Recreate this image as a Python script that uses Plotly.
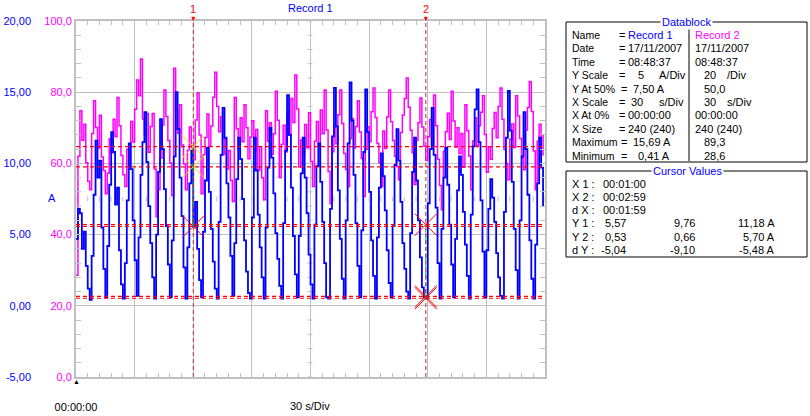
import plotly.graph_objects as go

# samples, 1 s each
t_sec = list(range(240))

record1 = [
    4.7, 6.8, 6.5, 4.0, 5.2, 2.8, 1.2, 0.41, 3.5, 7.8,
    11.6, 9.0, 10.2, 5.5, 2.6, 0.6, 4.2, 8.5, 12.2, 10.8,
    7.1, 8.3, 3.9, 1.5, 0.5, 3.0, 7.4, 11.4, 9.6, 6.0,
    3.2, 0.7, 4.8, 9.2, 11.5, 13.6, 10.1, 7.0, 4.4, 2.0,
    0.5, 5.0, 9.4, 13.1, 11.0, 8.2, 5.6, 2.9, 0.6, 4.6,
    10.5, 15.0, 12.4, 9.0, 6.3, 2.7, 0.5, 4.1, 8.6, 10.9,
    5.57, 7.3, 4.0, 1.8, 0.6, 5.2, 8.8, 11.1, 8.0, 5.4,
    3.1, 1.2, 0.5, 5.9, 10.6, 13.9, 11.8, 8.6, 6.2, 3.5,
    0.7, 4.4, 8.9, 11.8, 10.3, 7.5, 4.6, 2.4, 0.9, 0.5,
    6.2, 11.8, 9.5, 6.4, 4.1, 2.0, 0.5, 5.5, 9.7, 12.5,
    10.4, 7.9, 5.1, 3.3, 1.4, 0.5, 5.8, 10.9, 14.8, 12.0,
    8.3, 4.9, 2.2, 0.6, 4.9, 9.3, 11.8, 9.0, 6.5, 3.6,
    1.5, 0.5, 5.7, 9.8, 11.4, 8.7, 5.9, 3.0, 0.6, 0.5,
    6.8, 11.9, 15.3, 12.6, 8.1, 4.7, 1.9, 0.5, 6.0, 11.4,
    15.69, 13.0, 9.2, 5.8, 2.8, 0.6, 5.3, 10.8, 15.2, 12.2,
    8.0, 4.6, 2.1, 0.5, 4.8, 8.3, 10.7, 9.1, 6.7, 3.9,
    1.6, 0.6, 5.6, 9.9, 12.4, 10.2, 7.3, 4.4, 2.6, 1.0,
    0.5, 5.1, 9.4, 11.8, 8.8, 6.0, 3.4, 1.3, 0.6, 0.53,
    7.2, 11.0, 13.9, 10.6, 6.9, 3.0, 0.5, 5.4, 9.0, 11.1,
    8.5, 5.7, 2.9, 0.6, 4.7, 8.1, 10.5, 9.2, 6.6, 4.3,
    2.1, 0.5, 6.4, 11.2, 13.8, 15.2, 11.5, 7.4, 3.8, 0.6,
    3.9, 6.8, 8.9, 7.6, 5.9, 3.7, 2.0, 0.7, 0.5, 6.6,
    11.8, 15.1, 12.3, 8.7, 5.4, 2.5, 0.5, 6.0, 10.5, 13.6,
    11.0, 7.8, 4.6, 1.9, 0.5, 4.3, 8.6, 11.8, 9.7, 7.0,
]

record2 = [
    28.6, 62.0, 74.8, 66.5, 71.0, 60.2, 55.0, 52.6, 68.4, 77.6,
    70.1, 64.3, 73.5, 61.8, 58.0, 51.5, 57.2, 66.9, 63.0, 72.4,
    67.5, 78.5, 70.6, 62.2, 56.8, 53.5, 64.0, 59.3, 71.8, 66.0,
    75.2, 83.4, 79.0, 89.3, 72.5, 68.2, 74.0, 63.1, 70.4, 74.0,
    58.4, 45.0, 52.7, 61.5, 70.8, 80.6, 73.2, 66.4, 60.1, 51.0,
    86.7, 74.9, 68.5, 76.5, 65.2, 59.8, 52.6, 63.7, 70.2, 64.5,
    61.0, 72.2, 79.8, 68.0, 51.5, 62.4, 67.3, 73.9, 64.8, 70.5,
    78.6, 85.6, 76.0, 68.9, 73.1, 62.5, 66.8, 58.4, 63.6, 55.2,
    49.3, 78.5, 69.7, 64.0, 72.8, 66.1, 76.5, 70.0, 61.3, 67.4,
    72.0, 63.8, 69.5, 58.1, 64.7, 56.0, 49.8, 74.8, 66.2, 71.4,
    62.6, 68.3, 80.3, 72.1, 56.0, 65.4, 70.7, 63.2, 74.6, 67.9,
    78.2, 71.5, 84.8, 75.3, 59.0, 66.6, 62.1, 70.9, 64.4, 74.2,
    60.5, 53.5, 66.2, 71.8, 64.9, 75.0, 68.3, 80.6, 69.4, 57.7,
    48.7, 63.3, 70.1, 65.5, 73.7, 80.6, 71.2, 62.8, 58.3, 53.5,
    67.0, 72.6, 64.3, 70.4, 77.6, 68.8, 61.4, 50.7, 63.9, 70.3,
    66.1, 74.5, 81.2, 72.9, 65.6, 60.2, 53.5, 69.1, 64.2, 73.0,
    80.6, 71.7, 66.4, 62.0, 59.1, 55.4, 68.7, 73.6, 78.2, 84.0,
    75.8, 69.3, 63.0, 54.1, 66.5, 71.4, 78.4, 70.2, 64.9, 60.8,
    67.5, 72.3, 65.0, 79.2, 70.6, 61.2, 53.8, 47.0, 63.4, 68.9,
    74.1, 66.7, 80.3, 71.9, 64.6, 70.0, 62.8, 68.4, 58.9, 76.5,
    69.2, 62.1, 52.6, 66.3, 72.8, 65.0, 70.6, 74.4, 79.0, 68.1,
    57.5, 64.7, 61.2, 69.8, 74.3, 67.2, 76.0, 81.2, 72.4, 63.9,
    60.0, 55.4, 66.8, 71.1, 64.5, 79.0, 73.3, 67.0, 61.6, 58.2,
    69.4, 75.7, 83.0, 74.6, 63.5, 52.6, 66.2, 71.0, 62.4, 68.0,
]

x_ticks = [0, 30, 60, 90, 120, 150, 180, 210, 240]
x_ticktext = ["00:00:00", "", "", "", "", "", "", "", ""]
a_ticks = [-5, 0, 5, 10, 15, 20]
a_ticktext = ["-5,00", "0,00", "5,00", "10,00", "15,00", "20,00"]
r2_ticks = [0, 20, 40, 60, 80, 100]
r2_ticktext = ["0,0", "20,0", "40,0", "60,0", "80,0", "100,0"]

cursor_x = [60, 179]
cursor_xtext = ["00:01:00", "00:02:59", "00:01:59"]
cursor_y1 = [5.57, 9.76, 11.18]
cursor_y2 = [0.53, 0.66, 5.70]

db_labels = ["Name", "Date", "Time", "Y Scale", "Y At 50%", "X Scale",
             "X At 0%", "X Size", "Maximum", "Minimum"]
db_col1 = [("Record 1", 626), ("17/11/2007", 626), ("08:48:37", 626), ("5", 636),
           ("7,50 A", 631), ("30", 629), ("00:00:00", 626), ("240 (240)", 626),
           ("15,69 A", 631), ("0,41 A", 636)]
db_col2 = [("Record 2", 693), ("17/11/2007", 693), ("08:48:37", 693), ("20", 702),
           ("50,0", 702), ("30", 702), ("00:00:00", 693), ("240 (240)", 693),
           ("89,3", 702), ("28,6", 702)]

BLUE = "#0000ff"
MAG = "#ff00ff"
GRID = "#c0c0c0"
FONT = "Liberation Sans"

W, H = 810, 416
ML, MR, MT, MB = 0, 265, 21, 39
PW, PH = W - ML - MR, H - MT - MB


def px(x):
    return (x - ML) / PW


def py(y):
    return 1 - (y - MT) / PH


def fmt(v):
    return f"{v:.2f}".replace(".", ",")


fig = go.Figure()

fig.add_trace(go.Scatter(x=t_sec, y=record2, mode="lines", line_shape="hv",
                         line=dict(color=MAG, width=1.5), yaxis="y", hoverinfo="skip"))
fig.add_trace(go.Scatter(x=t_sec, y=record1, mode="lines", line_shape="hv",
                         line=dict(color=BLUE, width=1.8), yaxis="y2", hoverinfo="skip"))

# cursor level lines
for v in cursor_y1 + cursor_y2:
    fig.add_shape(type="line", xref="x", yref="y2", x0=0, x1=240, y0=v, y1=v,
                  line=dict(color="#ff0000", width=1.2, dash="4px,3px"), layer="above")

# green segments on cursor lines
fig.add_shape(type="line", xref="x", yref="y2", x0=cursor_x[0], x1=cursor_x[0],
              y0=cursor_y1[0], y1=cursor_y1[2], line=dict(color="#00d000", width=1, dash="dashdot"))
fig.add_shape(type="line", xref="x", yref="y2", x0=cursor_x[1], x1=cursor_x[1],
              y0=cursor_y2[0], y1=cursor_y2[2], line=dict(color="#00d000", width=1, dash="dashdot"))

# cursor vertical lines
for i, cx in enumerate(cursor_x):
    fig.add_shape(type="line", xref="x", yref="paper", x0=cx, x1=cx, y0=0, y1=1,
                  line=dict(color="#c03030", width=1, dash="4px,3px"), layer="above")
    fig.add_annotation(x=cx, y=1, xref="x", yref="paper", text=str(i + 1),
                       showarrow=True, ax=0, ay=-12, arrowhead=2, arrowsize=0.8,
                       arrowwidth=1, arrowcolor="#ff0000", standoff=0,
                       font=dict(family=FONT, size=11, color="#ff0000"))

fig.add_trace(go.Scatter(x=[cursor_x[0], cursor_x[1], cursor_x[1], cursor_x[1]],
                         y=[cursor_y1[0], cursor_y2[0], cursor_y2[1], cursor_y2[2]],
                         mode="markers", yaxis="y2", hoverinfo="skip",
                         marker=dict(symbol="x-thin", size=22, line=dict(color="#ff0000", width=1))))
fig.add_trace(go.Scatter(x=[cursor_x[0], cursor_x[0]], y=[cursor_y1[1], cursor_y1[2]],
                         mode="markers", yaxis="y2", hoverinfo="skip",
                         marker=dict(symbol="x-thin", size=22, line=dict(color="#e8e000", width=1))))

# graticule ticks along the centre lines
for k in range(0, 241, 6):
    fig.add_shape(type="line", xref="x", yref="y", x0=k, x1=k, ysizemode="pixel",
                  yanchor=50, y0=-2.5, y1=2.5, line=dict(color=GRID, width=1), layer="below")
for k in range(0, 101, 4):
    fig.add_shape(type="line", xref="x", yref="y", y0=k, y1=k, xsizemode="pixel",
                  xanchor=120, x0=-3, x1=2, line=dict(color=GRID, width=1), layer="below")

anns = []


def txt(x, y, s, color="black", anchor="left", size=11, bg=None):
    d = dict(x=px(x), y=py(y), xref="paper", yref="paper", text=s, showarrow=False,
             xanchor=anchor, yanchor="middle",
             font=dict(family=FONT, size=size, color=color))
    if bg:
        d.update(bgcolor=bg, borderpad=1)
    anns.append(d)


txt(310, 8, "Record 1", BLUE, "center")
txt(310, 406, "30 s/Div", "black", "center")
txt(52, 198, "A", BLUE, "center")
txt(76, 381, "▲", "black", "center", size=7)

# Datablock panel
box = dict(color="black", width=1)
fig.add_shape(type="rect", xref="paper", yref="paper", x0=px(566), x1=px(807),
              y0=py(22), y1=py(162), line=box)
fig.add_shape(type="line", xref="paper", yref="paper", x0=px(689), x1=px(689),
              y0=py(29), y1=py(161), line=box)
txt(686, 22, "Datablock", BLUE, "center", bg="white")
for i, lab in enumerate(db_labels):
    yy = 35 + 13.4 * i
    txt(570, yy, lab, size=10.5)
    txt(619 if lab in ("Maximum", "Minimum", "Y At 50%") else 617, yy, "=")
    s1, x1 = db_col1[i]
    s2, x2 = db_col2[i]
    txt(x1, yy, s1, BLUE if i == 0 else "black")
    txt(x2, yy, s2, MAG if i == 0 else "black")
    if lab == "Y Scale":
        txt(657, yy, "A/Div")
        txt(725, yy, "/Div")
    if lab == "X Scale":
        txt(657, yy, "s/Div")
        txt(725, yy, "s/Div")

# Cursor values panel
fig.add_shape(type="rect", xref="paper", yref="paper", x0=px(566), x1=px(807),
              y0=py(171), y1=py(257), line=box)
txt(687, 171, "Cursor Values", BLUE, "center", bg="white")
cur_labels = ["X 1 :", "X 2 :", "d X :", "Y 1 :", "Y 2 :", "d Y :"]
dy = [b - a for a, b in zip(cursor_y1, cursor_y2)]
rows_y = [cursor_y1, cursor_y2, dy]
for i, lab in enumerate(cur_labels):
    yy = 183.5 + 13.3 * i
    txt(570, yy, lab)
    if i < 3:
        txt(601, yy, cursor_xtext[i])
    else:
        vals = rows_y[i - 3]
        txt(628, yy, fmt(vals[0]), anchor="right")
        txt(697, yy, fmt(vals[1]), anchor="right")
        txt(777, yy, fmt(vals[2]) + " A", anchor="right")

fig.update_layout(
    width=W, height=H,
    margin=dict(l=ML, r=MR, t=MT, b=MB, autoexpand=False),
    paper_bgcolor="white", plot_bgcolor="white",
    showlegend=False,
    annotations=fig.layout.annotations + tuple(anns),
    xaxis=dict(domain=[px(76), 1], range=[0, 240], tickmode="array",
               tickvals=x_ticks, ticktext=x_ticktext, showgrid=True, gridcolor=GRID,
               gridwidth=1, showline=True, linecolor=GRID, linewidth=2, mirror="ticks",
               ticks="inside", ticklen=4, tickcolor=GRID, ticklabelstandoff=19,
               minor=dict(dtick=6, ticks="inside", ticklen=4, tickcolor=GRID, showgrid=False),
               zeroline=False, tickfont=dict(family=FONT, size=11, color="black")),
    yaxis=dict(range=[0, 100], tickmode="array", tickvals=r2_ticks, ticktext=r2_ticktext,
               showgrid=True, gridcolor=GRID, gridwidth=1, showline=True, linecolor=GRID,
               linewidth=2, mirror="ticks", ticks="inside", ticklen=5, tickcolor=GRID,
               minor=dict(dtick=4, ticks="inside", ticklen=5, tickcolor=GRID, showgrid=False),
               zeroline=False, tickfont=dict(family=FONT, size=11, color=MAG)),
    yaxis2=dict(range=[-5, 20], overlaying="y", anchor="free", side="left",
                position=px(31), tickmode="array", tickvals=a_ticks, ticktext=a_ticktext,
                showgrid=False, showline=False, ticks="", zeroline=False,
                tickfont=dict(family=FONT, size=11, color=BLUE)),
)

fig.write_html("out.html", config={"displayModeBar": False},
               post_script="document.body.style.margin='0';")
